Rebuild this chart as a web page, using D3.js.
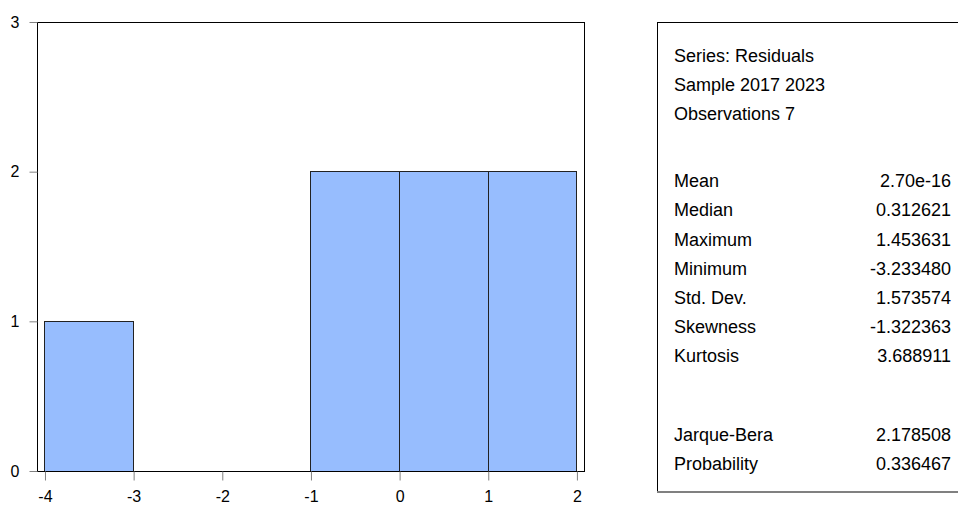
<!DOCTYPE html>
<html>
<head>
<meta charset="utf-8">
<script src="https://cdn.jsdelivr.net/npm/d3@7"></script>
<style>
  html, body { margin: 0; padding: 0; background: #fff; }
  svg { display: block; font-family: Arial, "Liberation Sans", sans-serif; }
</style>
</head>
<body>
<div id="container"></div>
<script>
const WIDTH = 958;
const HEIGHT = 505;

// histogram bins (left edge, width 1) and counts
const binStarts = [-4, -3, -2, -1, 0, 1];
const counts = [1, 0, 0, 2, 2, 2];
const xTicks = [-4, -3, -2, -1, 0, 1, 2];
const yTicks = [0, 1, 2, 3];

// stats panel
const statLabels = ["Series: Residuals", "Sample 2017 2023", "Observations 7",
  "Mean", "Median", "Maximum", "Minimum", "Std. Dev.", "Skewness", "Kurtosis",
  "Jarque-Bera", "Probability"];
const statValues = ["", "", "",
  "2.70e-16", "0.312621", "1.453631", "-3.233480", "1.573574", "-1.322363", "3.688911",
  "2.178508", "0.336467"];
// row slot of each line (blank gaps between the blocks)
const statSlots = [0, 1, 2, 4.3, 5.3, 6.3, 7.3, 8.3, 9.3, 10.3, 13, 14];

const svg = d3.select("#container").append("svg")
  .attr("width", WIDTH)
  .attr("height", HEIGHT);

// plot area
const X1 = 37, X2 = 584, Y1 = 22, Y2 = 471;

const x = d3.scaleLinear().domain([-4.09, 2.08]).range([X1, X2]);
const y = d3.scaleLinear().domain([0, 3]).range([Y2, Y1]);

// bars
svg.append("g")
  .selectAll("rect")
  .data(binStarts.map((s, i) => ({ s, c: counts[i] })).filter(d => d.c > 0))
  .enter()
  .append("rect")
  .attr("x", d => x(d.s))
  .attr("y", d => y(d.c))
  .attr("width", d => x(d.s + 1) - x(d.s))
  .attr("height", d => y(0) - y(d.c))
  .attr("fill", "#97bdfe")
  .attr("stroke", "#222")
  .attr("stroke-width", 1)
  .attr("shape-rendering", "crispEdges");

// frame
svg.append("rect")
  .attr("x", X1 + 0.5)
  .attr("y", Y1 + 0.5)
  .attr("width", X2 - X1)
  .attr("height", Y2 - Y1)
  .attr("fill", "none")
  .attr("stroke", "#000")
  .attr("stroke-width", 1);

// axes (plain hyphen for negatives, as in the original)
const fmt = d => String(d);
const xAxis = svg.append("g")
  .attr("transform", `translate(0,${Y2 + 0.5})`)
  .call(d3.axisBottom(x).tickValues(xTicks).tickSize(9).tickPadding(10).tickFormat(fmt));
const yAxis = svg.append("g")
  .attr("transform", `translate(${X1 + 0.5},0)`)
  .call(d3.axisLeft(y).tickValues(yTicks).tickSize(8).tickPadding(10).tickFormat(fmt));

[xAxis, yAxis].forEach(a => {
  a.select(".domain").remove();
  a.selectAll(".tick line").attr("stroke", "#808080");
  a.selectAll(".tick text")
    .attr("fill", "#000")
    .style("font-size", "16px")
    .style("font-family", "Arial, 'Liberation Sans', sans-serif");
});

// stats box
const box = svg.append("g");
box.append("rect")
  .attr("x", 657.5)
  .attr("y", 22.5)
  .attr("width", 320)
  .attr("height", 469)
  .attr("fill", "#fff")
  .attr("stroke", "#000")
  .attr("stroke-width", 1);
box.append("line")
  .attr("x1", 657)
  .attr("x2", WIDTH)
  .attr("y1", 492)
  .attr("y2", 492)
  .attr("stroke", "#808080")
  .attr("stroke-width", 2);

const rowY = d3.scaleLinear().domain([0, 14]).range([62, 470]);

box.selectAll("text.lab")
  .data(statLabels)
  .enter()
  .append("text")
  .attr("class", "lab")
  .attr("x", 674)
  .attr("y", (d, i) => rowY(statSlots[i]))
  .style("font-size", "18px")
  .attr("fill", "#000")
  .text(d => d);

box.selectAll("text.val")
  .data(statValues)
  .enter()
  .append("text")
  .attr("class", "val")
  .attr("x", 951)
  .attr("y", (d, i) => rowY(statSlots[i]))
  .attr("text-anchor", "end")
  .style("font-size", "18px")
  .attr("fill", "#000")
  .text(d => d);
</script>
</body>
</html>
